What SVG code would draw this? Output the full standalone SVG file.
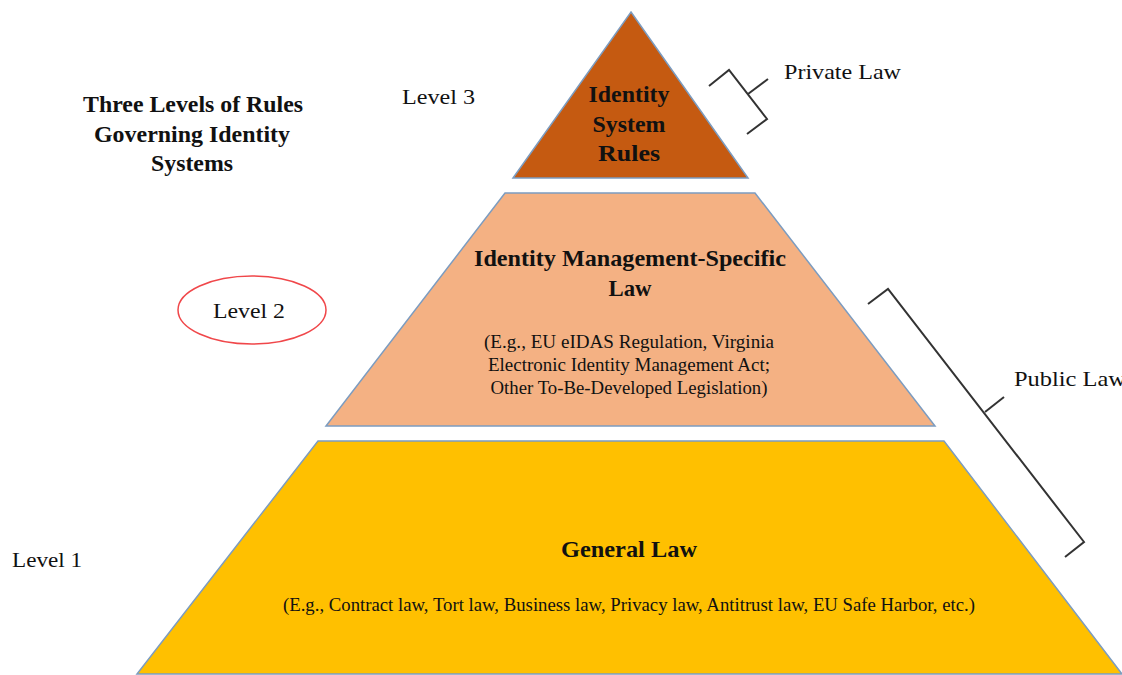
<svg xmlns="http://www.w3.org/2000/svg" width="1122" height="675" viewBox="0 0 1122 675">
<style>
.t{font-family:"Liberation Serif","Times New Roman",serif;fill:#111}
.b{font-weight:bold;font-size:23px}
.n{font-size:21px}
.s{font-size:18px}
.shape{stroke:#7c9cc0;stroke-width:1.5}
.br{fill:none;stroke:#333;stroke-width:2}
</style>
<rect width="1122" height="675" fill="#fff"/>
<g id="title">
<text class="t b" text-anchor="middle" x="193" y="112" textLength="220" lengthAdjust="spacingAndGlyphs">Three Levels of Rules</text>
<text class="t b" text-anchor="middle" x="192" y="142" textLength="196" lengthAdjust="spacingAndGlyphs">Governing Identity</text>
<text class="t b" text-anchor="middle" x="192" y="171" textLength="82" lengthAdjust="spacingAndGlyphs">Systems</text>
</g>
<g id="level3">
<polygon class="shape" points="631,12 748,178 513,178" fill="#C55A11"/>
<text class="t b" text-anchor="middle" x="629" y="102" textLength="81" lengthAdjust="spacingAndGlyphs">Identity</text>
<text class="t b" text-anchor="middle" x="629" y="132" textLength="73" lengthAdjust="spacingAndGlyphs">System</text>
<text class="t b" text-anchor="middle" x="629" y="161" textLength="62" lengthAdjust="spacingAndGlyphs">Rules</text>
<text class="t n" x="402" y="104" textLength="73" lengthAdjust="spacingAndGlyphs">Level 3</text>
</g>
<g id="level2">
<polygon class="shape" points="505,193 755,193 935,426 326,426" fill="#F4B183"/>
<text class="t b" text-anchor="middle" x="630" y="266" textLength="312" lengthAdjust="spacingAndGlyphs">Identity Management-Specific</text>
<text class="t b" text-anchor="middle" x="630" y="296" textLength="43" lengthAdjust="spacingAndGlyphs">Law</text>
<text class="t s" text-anchor="middle" x="629" y="348" textLength="290" lengthAdjust="spacingAndGlyphs">(E.g., EU eIDAS Regulation, Virginia</text>
<text class="t s" text-anchor="middle" x="629" y="371" textLength="282" lengthAdjust="spacingAndGlyphs">Electronic Identity Management Act;</text>
<text class="t s" text-anchor="middle" x="629" y="394" textLength="277" lengthAdjust="spacingAndGlyphs">Other To-Be-Developed Legislation)</text>
<ellipse cx="252" cy="310" rx="74" ry="34" fill="none" stroke="#f0474a" stroke-width="1.5"/>
<text class="t n" x="213" y="318" textLength="72" lengthAdjust="spacingAndGlyphs">Level 2</text>
</g>
<g id="level1">
<polygon class="shape" points="318,441 944,441 1122,674 137,674" fill="#FFC000"/>
<text class="t b" text-anchor="middle" x="629" y="557" textLength="136" lengthAdjust="spacingAndGlyphs">General Law</text>
<text class="t s" text-anchor="middle" x="629" y="611" textLength="692" lengthAdjust="spacingAndGlyphs">(E.g., Contract law, Tort law, Business law, Privacy law, Antitrust law, EU Safe Harbor, etc.)</text>
<text class="t n" x="12" y="567" textLength="70" lengthAdjust="spacingAndGlyphs">Level 1</text>
</g>
<g id="connectors">
<polyline class="br" points="709,86 729,70 767,119 747,134"/>
<line class="br" x1="748" y1="94" x2="768" y2="79"/>
<polyline class="br" points="868,304 888,289 1084,542 1065,557"/>
<line class="br" x1="985" y1="412" x2="1004" y2="397"/>
</g>
<g id="labels">
<text class="t n" x="784" y="79" textLength="117" lengthAdjust="spacingAndGlyphs">Private Law</text>
<text class="t n" x="1014" y="386" textLength="112" lengthAdjust="spacingAndGlyphs">Public Law</text>
</g>
</svg>
